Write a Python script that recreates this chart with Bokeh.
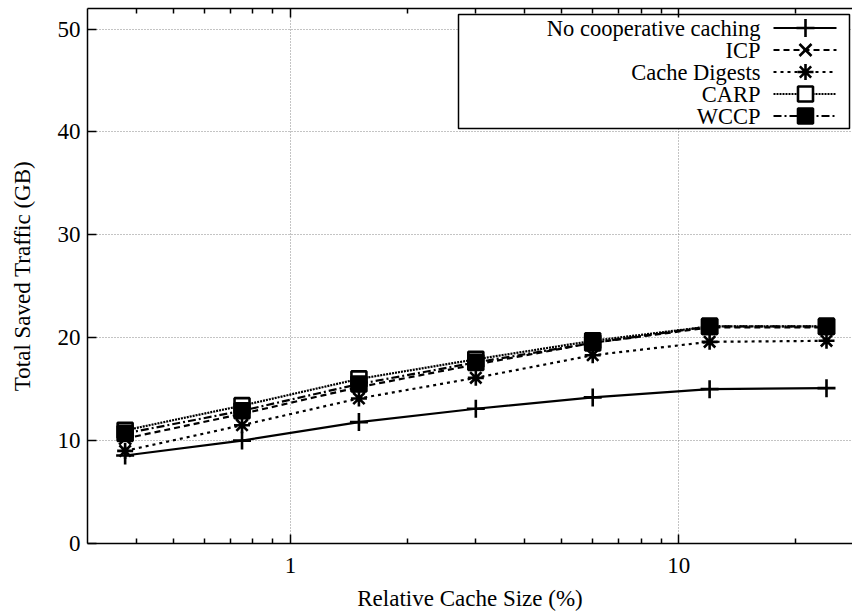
import math
from bokeh.plotting import figure
from bokeh.models import FixedTicker, LogAxis, PrintfTickFormatter, Range1d
from bokeh.embed import file_html
from bokeh.resources import INLINE
from bokeh.core.properties import value

# ---------------- data ----------------
cache_size = [0.375, 0.75, 1.5, 3, 6, 12, 24]          # Relative Cache Size (%)
no_coop = [8.55, 10.0, 11.8, 13.1, 14.2, 15.0, 15.1]
icp = [10.2, 12.6, 15.2, 17.4, 19.5, 21.0, 21.0]
cache_digests = [9.0, 11.5, 14.1, 16.1, 18.3, 19.6, 19.7]
carp = [11.0, 13.4, 16.0, 17.9, 19.7, 21.1, 21.1]
wccp = [10.7, 12.9, 15.5, 17.6, 19.5, 21.1, 21.1]
series_names = ["No cooperative caching", "ICP", "Cache Digests", "CARP", "WCCP"]
x_major_ticks = [1, 10]
x_minor_ticks = [0.4, 0.5, 0.6, 0.7, 0.8, 0.9, 2, 3, 4, 5, 6, 7, 8, 9, 20]
y_ticks = [0, 10, 20, 30, 40, 50]

# ---------------- layout ----------------
W, H = 852, 614
L, T, B, R = 87, 8, 71, 0
X0, X1 = 0.3, 28.0
Y0, Y1 = 0, 52
FW, FH = W - L - R, H - T - B
FONT = "Liberation Serif"


def xd(px):
    lo, hi = math.log10(X0), math.log10(X1)
    return 10 ** (lo + (px - L) / FW * (hi - lo))


def yd(py):
    return Y1 - (py - T) / FH * (Y1 - Y0)


p = figure(width=W, height=H, x_axis_type="log",
           x_range=Range1d(X0, X1), y_range=Range1d(Y0, Y1),
           output_backend="svg", toolbar_location=None,
           min_border_left=L, min_border_top=T, min_border_bottom=B, min_border_right=R)
p.outline_line_color = None
p.background_fill_color = "white"
p.border_fill_color = "white"

# axes
for ax in (p.xaxis[0], p.yaxis[0]):
    ax.axis_line_color = "black"
    ax.axis_line_width = 1.5
    ax.major_tick_in = 9
    ax.major_tick_out = 0
    ax.minor_tick_in = 5
    ax.minor_tick_out = 0
    ax.major_tick_line_width = 1.5
    ax.minor_tick_line_width = 1.5
    ax.major_label_text_font = FONT
    ax.major_label_text_font_size = "23px"
    ax.major_label_text_color = "black"
    ax.axis_label_text_font = FONT
    ax.axis_label_text_font_size = "23px"
    ax.axis_label_text_font_style = "normal"
    ax.axis_label_text_color = "black"

p.xaxis[0].ticker = FixedTicker(ticks=x_major_ticks, minor_ticks=x_minor_ticks)
p.xaxis[0].formatter = PrintfTickFormatter(format="%d")
p.xaxis[0].major_label_standoff = 14
p.xaxis[0].axis_label = "Relative Cache Size (%)"
p.xaxis[0].axis_label_standoff = 10

p.yaxis[0].ticker = FixedTicker(ticks=y_ticks)
p.yaxis[0].major_label_standoff = 7
p.yaxis[0].axis_label = "Total Saved Traffic (GB)"
p.yaxis[0].axis_label_standoff = 20

top = LogAxis(ticker=FixedTicker(ticks=x_major_ticks, minor_ticks=x_minor_ticks),
              major_label_text_font_size="1px", major_label_text_color=None,
              major_tick_in=9, major_tick_out=0,
              minor_tick_in=5, minor_tick_out=0, axis_line_width=1.5,
              major_tick_line_width=1.5, minor_tick_line_width=1.5,
              major_label_standoff=0)
p.add_layout(top, "above")

# grid
p.xgrid.ticker = FixedTicker(ticks=x_major_ticks)
p.ygrid.ticker = FixedTicker(ticks=y_ticks[1:])
for g in (p.xgrid, p.ygrid):
    g.grid_line_color = "#888888"
    g.grid_line_dash = "1 2"
    g.grid_line_width = 1

# series
series = [no_coop, icp, cache_digests, carp, wccp]
styles = [
    dict(dash="solid", marker="cross", size=18, fill="black"),
    dict(dash="6 4", marker="x", size=17, fill="black"),
    dict(dash="3 4", marker="asterisk", size=16, fill="black"),
    dict(dash="2 1", marker="square", size=15, fill=None),
    dict(dash="8 3 2 3", marker="square", size=15, fill="black"),
]

for ys, st in zip(series, styles):
    p.line(cache_size, ys, line_color="black", line_width=2.2, line_dash=st["dash"])
    p.scatter(cache_size, ys, marker=st["marker"], size=st["size"],
              line_color="black", line_width=2.6,
              fill_color=st["fill"], fill_alpha=1 if st["fill"] else 0)

# legend (gnuplot style: right-aligned text, sample on the right)
p.quad(left=[xd(458)], right=[xd(849)], top=[yd(14)], bottom=[yd(128)],
       fill_color="white", line_color="black", line_width=1.5)
row_py = [27.5 + 22 * i for i in range(len(series_names))]
p.text(x=[xd(760)] * len(series_names), y=[yd(py) for py in row_py], text=series_names,
       text_align="right", text_baseline="middle", text_color="black",
       text_font=value(FONT), text_font_size="22.5px")
for py, st in zip(row_py, styles):
    p.line([xd(773), xd(836)], [yd(py), yd(py)], line_color="black", line_width=2.2,
           line_dash=st["dash"])
    p.scatter([xd(805)], [yd(py)], marker=st["marker"], size=st["size"],
              line_color="black", line_width=2.6,
              fill_color=st["fill"] if st["fill"] else "white",
              fill_alpha=1)

open("out.html", "w").write(file_html(p, INLINE))
